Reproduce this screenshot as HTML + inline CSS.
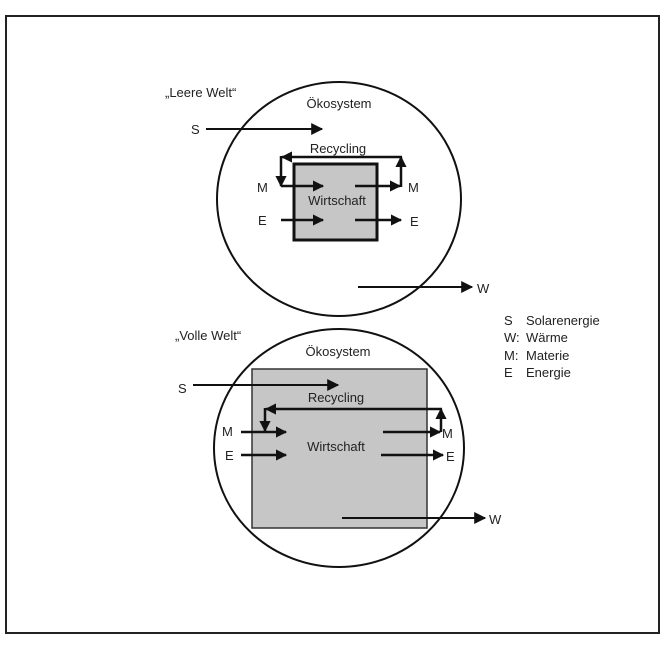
<!DOCTYPE html>
<html><head><meta charset="utf-8"><style>
html,body{margin:0;padding:0;background:#fff}
svg text{font-family:"Liberation Sans",sans-serif;font-size:13px;fill:#222}
</style></head><body>
<svg width="669" height="644" viewBox="0 0 669 644" xmlns="http://www.w3.org/2000/svg">
<defs>
<marker id="a" viewBox="0 0 10 10" refX="9" refY="5" markerWidth="4.5" markerHeight="4.5" orient="auto" markerUnits="strokeWidth"><path d="M0,0 L10,5 L0,10 z" fill="#111"/></marker>
<marker id="b" viewBox="0 0 10 10" refX="9" refY="5" markerWidth="6" markerHeight="6" orient="auto" markerUnits="strokeWidth"><path d="M0,0 L10,5 L0,10 z" fill="#111"/></marker>
</defs>
<rect x="6" y="16" width="653" height="617" fill="#fff" stroke="#222" stroke-width="2"/>

<!-- Top -->
<ellipse cx="339" cy="199" rx="122" ry="117" fill="none" stroke="#111" stroke-width="2"/>
<rect x="294" y="164" width="83" height="76" fill="#c6c6c6" stroke="#111" stroke-width="3"/>
<text x="165" y="97" font-size="12">„Leere Welt“</text>
<text x="339" y="108" text-anchor="middle">Ökosystem</text>
<text x="191" y="134">S</text>
<line x1="206" y1="129" x2="322" y2="129" stroke="#111" stroke-width="2" marker-end="url(#b)"/>
<text x="338" y="153" text-anchor="middle">Recycling</text>
<line x1="402" y1="157" x2="282" y2="157" stroke="#111" stroke-width="2.5" marker-end="url(#a)"/>
<line x1="281" y1="156" x2="281" y2="186" stroke="#111" stroke-width="2.5" marker-end="url(#a)"/>
<line x1="401" y1="187" x2="401" y2="157" stroke="#111" stroke-width="2.5" marker-end="url(#a)"/>
<line x1="281" y1="186" x2="323" y2="186" stroke="#111" stroke-width="2.5" marker-end="url(#a)"/>
<line x1="355" y1="186" x2="400" y2="186" stroke="#111" stroke-width="2.5" marker-end="url(#a)"/>
<line x1="281" y1="220" x2="323" y2="220" stroke="#111" stroke-width="2.5" marker-end="url(#a)"/>
<line x1="355" y1="220" x2="401" y2="220" stroke="#111" stroke-width="2.5" marker-end="url(#a)"/>
<text x="257" y="192">M</text>
<text x="408" y="192">M</text>
<text x="258" y="225">E</text>
<text x="410" y="226">E</text>
<text x="337" y="205" text-anchor="middle">Wirtschaft</text>
<line x1="358" y1="287" x2="472" y2="287" stroke="#111" stroke-width="2" marker-end="url(#b)"/>
<text x="477" y="293">W</text>

<!-- Bottom -->
<ellipse cx="339" cy="448" rx="125" ry="119" fill="none" stroke="#111" stroke-width="2"/>
<rect x="252" y="369" width="175" height="159" fill="#c6c6c6" stroke="#333" stroke-width="1.5"/>
<text x="175" y="340" font-size="12">„Volle Welt“</text>
<text x="338" y="356" text-anchor="middle">Ökosystem</text>
<text x="178" y="393">S</text>
<line x1="193" y1="385" x2="338" y2="385" stroke="#111" stroke-width="2" marker-end="url(#b)"/>
<text x="336" y="402" text-anchor="middle">Recycling</text>
<line x1="442" y1="409" x2="266" y2="409" stroke="#111" stroke-width="2.5" marker-end="url(#a)"/>
<line x1="265" y1="408" x2="265" y2="431" stroke="#111" stroke-width="2.5" marker-end="url(#a)"/>
<line x1="441" y1="432" x2="441" y2="409" stroke="#111" stroke-width="2.5" marker-end="url(#a)"/>
<line x1="241" y1="432" x2="286" y2="432" stroke="#111" stroke-width="2.5" marker-end="url(#a)"/>
<line x1="383" y1="432" x2="440" y2="432" stroke="#111" stroke-width="2.5" marker-end="url(#a)"/>
<line x1="241" y1="455" x2="286" y2="455" stroke="#111" stroke-width="2.5" marker-end="url(#a)"/>
<line x1="381" y1="455" x2="443" y2="455" stroke="#111" stroke-width="2.5" marker-end="url(#a)"/>
<text x="222" y="436">M</text>
<text x="442" y="438">M</text>
<text x="225" y="460">E</text>
<text x="446" y="461">E</text>
<text x="336" y="451" text-anchor="middle">Wirtschaft</text>
<line x1="342" y1="518" x2="485" y2="518" stroke="#111" stroke-width="2" marker-end="url(#b)"/>
<text x="489" y="524">W</text>

<!-- Legend -->
<text x="504" y="325" font-size="12">S</text><text x="526" y="325" font-size="12">Solarenergie</text>
<text x="504" y="342" font-size="12">W:</text><text x="526" y="342" font-size="12">Wärme</text>
<text x="504" y="360" font-size="12">M:</text><text x="526" y="360" font-size="12">Materie</text>
<text x="504" y="377" font-size="12">E</text><text x="526" y="377" font-size="12">Energie</text>
</svg>
</body></html>
